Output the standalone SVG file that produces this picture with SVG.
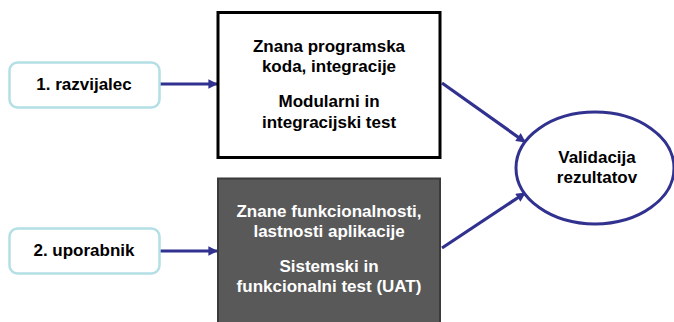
<svg xmlns="http://www.w3.org/2000/svg" width="674" height="322" viewBox="0 0 674 322">
  <style>
    .lbl { font-family: "Liberation Sans", Arial, sans-serif; font-weight: bold; font-size: 17px; text-anchor: middle; }
    .actor { fill: #ffffff; stroke: #b3dfe5; stroke-width: 2.5; }
    .edge { fill: none; stroke: #31318f; stroke-width: 3.2; }
  </style>
  <defs>
    <marker id="arrow" viewBox="0 0 10 10" refX="9" refY="5" markerWidth="3.2" markerHeight="3" orient="auto" markerUnits="strokeWidth">
      <path d="M0,0 L10,5 L0,10 z" fill="#31318f"/>
    </marker>
  </defs>

  <g id="connectors">
    <line class="edge" x1="160" y1="84" x2="217" y2="84" marker-end="url(#arrow)"/>
    <line class="edge" x1="160" y1="251" x2="217" y2="251" marker-end="url(#arrow)"/>
    <line class="edge" x1="442" y1="83" x2="525" y2="142" marker-end="url(#arrow)"/>
    <line class="edge" x1="442" y1="248" x2="525" y2="193" marker-end="url(#arrow)"/>
  </g>

  <g id="developer">
    <rect class="actor" x="9.5" y="62.5" width="150" height="45" rx="8"/>
    <text class="lbl" x="84" y="90">1. razvijalec</text>
  </g>

  <g id="user">
    <rect class="actor" x="9.5" y="228.5" width="150" height="45" rx="8"/>
    <text class="lbl" x="84" y="256">2. uporabnik</text>
  </g>

  <g id="whitebox">
    <rect x="218" y="12.5" width="222" height="145" fill="#ffffff" stroke="#000000" stroke-width="3"/>
    <text class="lbl" x="329" y="52">Znana programska</text>
    <text class="lbl" x="329" y="72">koda, integracije</text>
    <text class="lbl" x="329" y="107">Modularni in</text>
    <text class="lbl" x="329" y="128">integracijski test</text>
  </g>

  <g id="blackbox">
    <rect x="218" y="178.5" width="222" height="150" fill="#595959" stroke="#3a3a3a" stroke-width="2"/>
    <text class="lbl" x="329" y="217" fill="#ffffff">Znane funkcionalnosti,</text>
    <text class="lbl" x="329" y="237" fill="#ffffff">lastnosti aplikacije</text>
    <text class="lbl" x="329" y="272" fill="#ffffff">Sistemski in</text>
    <text class="lbl" x="329" y="292" fill="#ffffff">funkcionalni test (UAT)</text>
  </g>

  <g id="validation">
    <ellipse cx="595" cy="168" rx="79" ry="56" fill="#ffffff" stroke="#31318f" stroke-width="3"/>
    <text class="lbl" x="597" y="163">Validacija</text>
    <text class="lbl" x="597" y="183">rezultatov</text>
  </g>
</svg>
